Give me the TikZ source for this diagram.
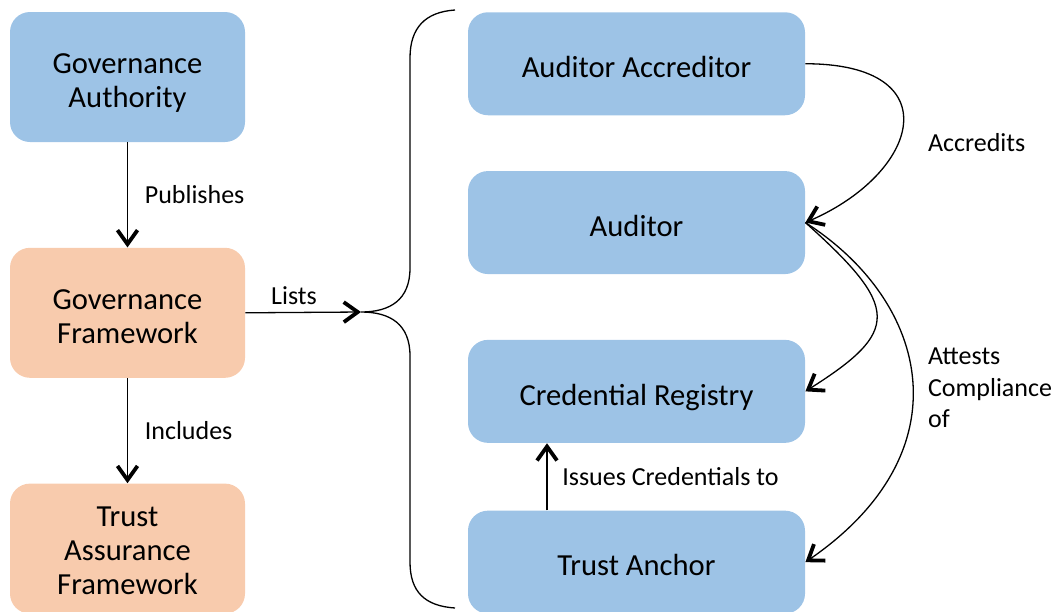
\documentclass[tikz,border=0pt]{standalone}
\usepackage{fontspec}
\setmainfont{Carlito}
\usepackage{tikz}
\usetikzlibrary{arrows.meta,positioning}
\definecolor{boxblue}{HTML}{9DC3E6}
\definecolor{boxorange}{HTML}{F8CBAD}
\tikzset{
    %Define standard arrow tip
    >={Straight Barb[length=7pt,width=10pt,line width=1.9pt]},
    %Define style for boxes
    bluebox/.style={
           rectangle,
           rounded corners=10pt,
           fill=boxblue,
           minimum width=168.5pt,
           minimum height=51.5pt,
           font=\fontsize{15.3}{17}\selectfont,
           text height=13.8pt,
           text depth=0pt,
           align=center},
    govbox/.style={
           rectangle,
           rounded corners=10pt,
           fill=boxblue,
           minimum width=117.5pt,
           minimum height=65pt,
           font=\fontsize{15.3}{17}\selectfont,
           text height=30.5pt,
           text depth=0pt,
           align=center},
    orangebox/.style={
           govbox,
           fill=boxorange},
    % Define label style
    lbl/.style={
           font=\fontsize{13}{15.75}\selectfont,
           align=left},
    % Define arrow style
    pil/.style={
           ->,
           line width=0.65pt}
}
\begin{document}
\begin{tikzpicture}[x=0.5pt,y=-0.5pt]
\useasboundingbox (0,0) rectangle (1054,611);
 %nodes
\node[govbox](1) at (127.5,77){Governance\\Authority};
\node[orangebox, below=52.5pt of 1](2){Governance\\Framework};
\node[orangebox, below=52.5pt of 2, text height=46pt](3){Trust\\Assurance\\Framework};

\node[bluebox](4) at (636.5,63.75){Auditor Accreditor};
\node[bluebox, below=27.5pt of 4](5){Auditor};
\node[bluebox, below=32.5pt of 5](6){Credential Registry};
\node[bluebox, below=33.5pt of 6](7){Trust Anchor};

\coordinate (tip) at (361,312);

 %brace
\draw[line width=0.65pt] (455,10) .. controls (425,12) and (410,28) .. (410,58)
    -- (410,268) .. controls (410,300) and (390,312) .. (tip)
    .. controls (390,312) and (410,324) .. (410,356)
    -- (410,562) .. controls (410,592) and (425,606) .. (455,608);

 %arrows
\path[pil]
    (1) edge node[lbl, right=5pt] {Publishes} (2)
    (2) edge node[lbl, right=5pt] {Includes} (3);
\draw[pil] (2.east) -- node[lbl, above, pos=0.42] {Lists} (tip);
\draw[pil] ([xshift=-44.75pt]7.north) -- node[lbl, right=4pt] {Issues Credentials to} ([xshift=-44.75pt]6.south);

\draw[pil] (4.east) .. controls +(145,0) and +(115,-50) .. (5.east);
\draw[pil] (5.east) .. controls +(95,85) and +(95,-60) .. (6.east);
\draw[pil] (5.east) .. controls +(125,80) and +(160,-110) .. (7.east);

\node[lbl, anchor=west](8) at (921,143){Accredits};
\node[lbl, anchor=west](9) at (921,388){Attests\\Compliance\\of};
\end{tikzpicture}
\end{document}
